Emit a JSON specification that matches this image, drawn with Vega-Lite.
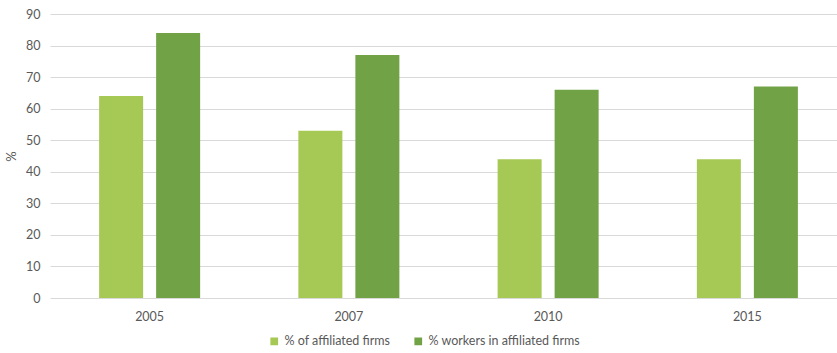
{
  "$schema": "https://vega.github.io/schema/vega-lite/v6.json",
  "width": 787,
  "height": 284,
  "autosize": "none",
  "padding": {"left": 50, "top": 14, "right": 0, "bottom": 55},
  "background": "white",
  "config": {
    "view": {"stroke": null},
    "font": "Lato",
    "axis": {"labelFont": "Lato", "titleFont": "Lato", "labelColor": "#595959", "titleColor": "#595959"},
    "legend": {"labelFont": "Lato"}
  },
  "data": {
    "values": [
      {"year": "2005", "series": "% of affiliated firms", "value": 64},
      {"year": "2005", "series": "% workers in affiliated firms", "value": 84},
      {"year": "2007", "series": "% of affiliated firms", "value": 53},
      {"year": "2007", "series": "% workers in affiliated firms", "value": 77},
      {"year": "2010", "series": "% of affiliated firms", "value": 44},
      {"year": "2010", "series": "% workers in affiliated firms", "value": 66},
      {"year": "2015", "series": "% of affiliated firms", "value": 44},
      {"year": "2015", "series": "% workers in affiliated firms", "value": 67}
    ]
  },
  "mark": {"type": "bar"},
  "encoding": {
    "x": {
      "field": "year",
      "type": "nominal",
      "scale": {"range": [0, 797], "paddingInner": 0.493, "paddingOuter": 0.2465},
      "axis": {"title": null, "labelAngle": 0, "ticks": false, "domain": false, "labelPadding": 12, "labelFontSize": 12.5}
    },
    "xOffset": {
      "field": "series",
      "type": "nominal",
      "scale": {"paddingInner": 0.228, "paddingOuter": 0}
    },
    "y": {
      "field": "value",
      "type": "quantitative",
      "scale": {"domain": [0, 90]},
      "axis": {
        "title": "%",
        "titleAngle": -90,
        "titleFontSize": 13,
        "titleFontWeight": "normal",
        "titlePadding": 7,
        "values": [0, 10, 20, 30, 40, 50, 60, 70, 80, 90],
        "ticks": false,
        "domain": false,
        "labelPadding": 10,
        "labelFontSize": 12.5,
        "gridColor": "#d9d9d9",
        "gridWidth": 1
      }
    },
    "color": {
      "field": "series",
      "type": "nominal",
      "scale": {"domain": ["% of affiliated firms", "% workers in affiliated firms"], "range": ["#a6c955", "#71a346"]},
      "legend": {
        "title": null,
        "orient": "none",
        "direction": "horizontal",
        "legendX": 218,
        "legendY": 321,
        "symbolType": "square",
        "symbolSize": 60,
        "symbolStrokeWidth": 0,
        "labelFontSize": 12.5,
        "labelColor": "#595959",
        "columnPadding": 21,
        "labelOffset": 4
      }
    }
  }
}
